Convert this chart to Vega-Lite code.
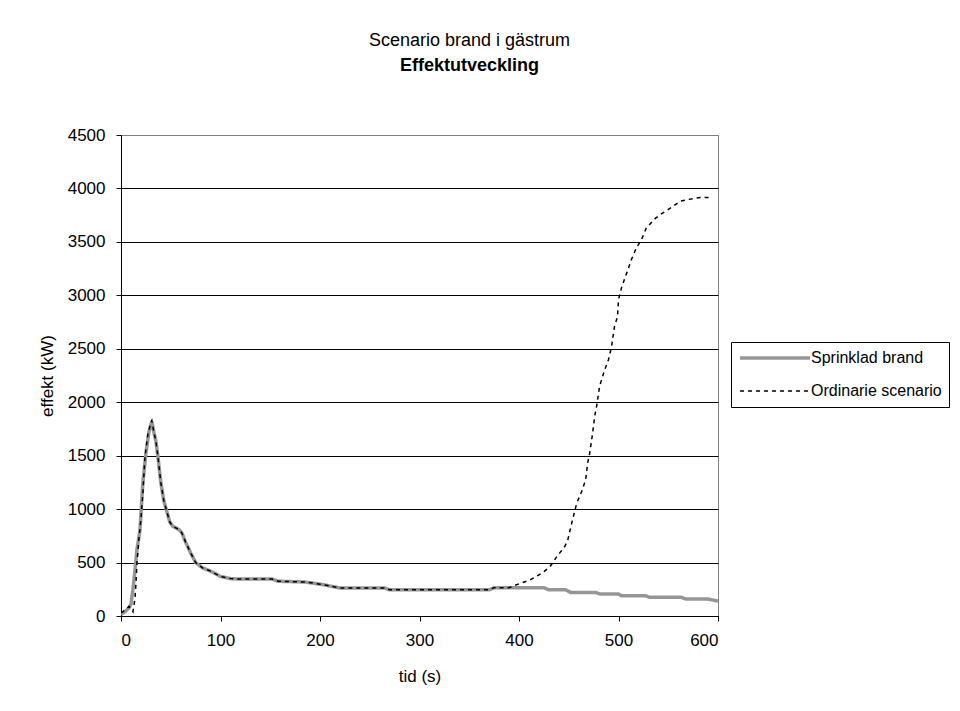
{
  "$schema": "https://vega.github.io/schema/vega-lite/v6.json",
  "autosize": "none",
  "width": 597,
  "height": 481,
  "padding": {"left": 121, "top": 135, "right": 242, "bottom": 95},
  "background": "white",
  "config": {
    "font": "Liberation Sans",
    "view": {"stroke": "#808080", "strokeWidth": 1}
  },
  "title": {
    "text": "Scenario brand i gästrum",
    "subtitle": "Effektutveckling",
    "fontSize": 18,
    "fontWeight": "normal",
    "color": "black",
    "subtitleFontSize": 18,
    "subtitleFontWeight": "bold",
    "subtitleColor": "black",
    "subtitlePadding": 7,
    "anchor": "middle",
    "frame": "group",
    "dx": 50,
    "offset": 51
  },
  "datasets": {
    "serier": [
      {"t": 0, "P": 15, "serie": "Sprinklad brand"},
      {"t": 4, "P": 40, "serie": "Sprinklad brand"},
      {"t": 8, "P": 75, "serie": "Sprinklad brand"},
      {"t": 10, "P": 110, "serie": "Sprinklad brand"},
      {"t": 12, "P": 250, "serie": "Sprinklad brand"},
      {"t": 14, "P": 420, "serie": "Sprinklad brand"},
      {"t": 16, "P": 620, "serie": "Sprinklad brand"},
      {"t": 19, "P": 800, "serie": "Sprinklad brand"},
      {"t": 22, "P": 1250, "serie": "Sprinklad brand"},
      {"t": 25, "P": 1520, "serie": "Sprinklad brand"},
      {"t": 28, "P": 1720, "serie": "Sprinklad brand"},
      {"t": 31, "P": 1820, "serie": "Sprinklad brand"},
      {"t": 33, "P": 1720, "serie": "Sprinklad brand"},
      {"t": 35, "P": 1640, "serie": "Sprinklad brand"},
      {"t": 37, "P": 1500, "serie": "Sprinklad brand"},
      {"t": 40, "P": 1250, "serie": "Sprinklad brand"},
      {"t": 43, "P": 1080, "serie": "Sprinklad brand"},
      {"t": 46, "P": 980, "serie": "Sprinklad brand"},
      {"t": 49, "P": 880, "serie": "Sprinklad brand"},
      {"t": 52, "P": 840, "serie": "Sprinklad brand"},
      {"t": 58, "P": 810, "serie": "Sprinklad brand"},
      {"t": 61, "P": 780, "serie": "Sprinklad brand"},
      {"t": 65, "P": 690, "serie": "Sprinklad brand"},
      {"t": 70, "P": 590, "serie": "Sprinklad brand"},
      {"t": 75, "P": 500, "serie": "Sprinklad brand"},
      {"t": 82, "P": 450, "serie": "Sprinklad brand"},
      {"t": 90, "P": 420, "serie": "Sprinklad brand"},
      {"t": 100, "P": 370, "serie": "Sprinklad brand"},
      {"t": 110, "P": 350, "serie": "Sprinklad brand"},
      {"t": 120, "P": 345, "serie": "Sprinklad brand"},
      {"t": 152, "P": 345, "serie": "Sprinklad brand"},
      {"t": 158, "P": 325, "serie": "Sprinklad brand"},
      {"t": 185, "P": 318, "serie": "Sprinklad brand"},
      {"t": 195, "P": 305, "serie": "Sprinklad brand"},
      {"t": 205, "P": 290, "serie": "Sprinklad brand"},
      {"t": 220, "P": 262, "serie": "Sprinklad brand"},
      {"t": 265, "P": 262, "serie": "Sprinklad brand"},
      {"t": 270, "P": 245, "serie": "Sprinklad brand"},
      {"t": 370, "P": 245, "serie": "Sprinklad brand"},
      {"t": 375, "P": 265, "serie": "Sprinklad brand"},
      {"t": 425, "P": 265, "serie": "Sprinklad brand"},
      {"t": 430, "P": 245, "serie": "Sprinklad brand"},
      {"t": 447, "P": 245, "serie": "Sprinklad brand"},
      {"t": 452, "P": 220, "serie": "Sprinklad brand"},
      {"t": 477, "P": 220, "serie": "Sprinklad brand"},
      {"t": 482, "P": 205, "serie": "Sprinklad brand"},
      {"t": 500, "P": 205, "serie": "Sprinklad brand"},
      {"t": 503, "P": 190, "serie": "Sprinklad brand"},
      {"t": 527, "P": 190, "serie": "Sprinklad brand"},
      {"t": 531, "P": 175, "serie": "Sprinklad brand"},
      {"t": 563, "P": 175, "serie": "Sprinklad brand"},
      {"t": 568, "P": 158, "serie": "Sprinklad brand"},
      {"t": 590, "P": 158, "serie": "Sprinklad brand"},
      {"t": 600, "P": 140, "serie": "Sprinklad brand"},

      {"t": 0, "P": 30, "serie": "Ordinarie scenario"},
      {"t": 5, "P": 60, "serie": "Ordinarie scenario"},
      {"t": 8, "P": 90, "serie": "Ordinarie scenario"},
      {"t": 10, "P": 70, "serie": "Ordinarie scenario"},
      {"t": 12, "P": 40, "serie": "Ordinarie scenario"},
      {"t": 14, "P": 160, "serie": "Ordinarie scenario"},
      {"t": 15, "P": 300, "serie": "Ordinarie scenario"},
      {"t": 16, "P": 490, "serie": "Ordinarie scenario"},
      {"t": 18, "P": 720, "serie": "Ordinarie scenario"},
      {"t": 20, "P": 900, "serie": "Ordinarie scenario"},
      {"t": 22, "P": 1150, "serie": "Ordinarie scenario"},
      {"t": 24, "P": 1480, "serie": "Ordinarie scenario"},
      {"t": 27, "P": 1700, "serie": "Ordinarie scenario"},
      {"t": 30, "P": 1810, "serie": "Ordinarie scenario"},
      {"t": 31, "P": 1830, "serie": "Ordinarie scenario"},
      {"t": 33, "P": 1720, "serie": "Ordinarie scenario"},
      {"t": 35, "P": 1640, "serie": "Ordinarie scenario"},
      {"t": 37, "P": 1500, "serie": "Ordinarie scenario"},
      {"t": 40, "P": 1250, "serie": "Ordinarie scenario"},
      {"t": 43, "P": 1080, "serie": "Ordinarie scenario"},
      {"t": 46, "P": 980, "serie": "Ordinarie scenario"},
      {"t": 49, "P": 880, "serie": "Ordinarie scenario"},
      {"t": 52, "P": 840, "serie": "Ordinarie scenario"},
      {"t": 58, "P": 810, "serie": "Ordinarie scenario"},
      {"t": 61, "P": 780, "serie": "Ordinarie scenario"},
      {"t": 65, "P": 690, "serie": "Ordinarie scenario"},
      {"t": 70, "P": 590, "serie": "Ordinarie scenario"},
      {"t": 75, "P": 500, "serie": "Ordinarie scenario"},
      {"t": 82, "P": 450, "serie": "Ordinarie scenario"},
      {"t": 90, "P": 420, "serie": "Ordinarie scenario"},
      {"t": 100, "P": 370, "serie": "Ordinarie scenario"},
      {"t": 110, "P": 350, "serie": "Ordinarie scenario"},
      {"t": 120, "P": 345, "serie": "Ordinarie scenario"},
      {"t": 152, "P": 345, "serie": "Ordinarie scenario"},
      {"t": 158, "P": 325, "serie": "Ordinarie scenario"},
      {"t": 185, "P": 318, "serie": "Ordinarie scenario"},
      {"t": 195, "P": 305, "serie": "Ordinarie scenario"},
      {"t": 205, "P": 290, "serie": "Ordinarie scenario"},
      {"t": 220, "P": 262, "serie": "Ordinarie scenario"},
      {"t": 265, "P": 262, "serie": "Ordinarie scenario"},
      {"t": 270, "P": 245, "serie": "Ordinarie scenario"},
      {"t": 370, "P": 245, "serie": "Ordinarie scenario"},
      {"t": 375, "P": 265, "serie": "Ordinarie scenario"},
      {"t": 390, "P": 265, "serie": "Ordinarie scenario"},
      {"t": 401, "P": 305, "serie": "Ordinarie scenario"},
      {"t": 411, "P": 337, "serie": "Ordinarie scenario"},
      {"t": 423, "P": 400, "serie": "Ordinarie scenario"},
      {"t": 431, "P": 460, "serie": "Ordinarie scenario"},
      {"t": 438, "P": 555, "serie": "Ordinarie scenario"},
      {"t": 446, "P": 650, "serie": "Ordinarie scenario"},
      {"t": 449, "P": 710, "serie": "Ordinarie scenario"},
      {"t": 453, "P": 870, "serie": "Ordinarie scenario"},
      {"t": 458, "P": 1055, "serie": "Ordinarie scenario"},
      {"t": 463, "P": 1165, "serie": "Ordinarie scenario"},
      {"t": 467, "P": 1275, "serie": "Ordinarie scenario"},
      {"t": 469, "P": 1430, "serie": "Ordinarie scenario"},
      {"t": 471, "P": 1520, "serie": "Ordinarie scenario"},
      {"t": 474, "P": 1710, "serie": "Ordinarie scenario"},
      {"t": 476, "P": 1865, "serie": "Ordinarie scenario"},
      {"t": 478, "P": 1960, "serie": "Ordinarie scenario"},
      {"t": 481, "P": 2150, "serie": "Ordinarie scenario"},
      {"t": 486, "P": 2300, "serie": "Ordinarie scenario"},
      {"t": 490, "P": 2400, "serie": "Ordinarie scenario"},
      {"t": 493, "P": 2520, "serie": "Ordinarie scenario"},
      {"t": 496, "P": 2710, "serie": "Ordinarie scenario"},
      {"t": 499, "P": 2800, "serie": "Ordinarie scenario"},
      {"t": 500, "P": 2960, "serie": "Ordinarie scenario"},
      {"t": 503, "P": 3070, "serie": "Ordinarie scenario"},
      {"t": 506, "P": 3150, "serie": "Ordinarie scenario"},
      {"t": 510, "P": 3255, "serie": "Ordinarie scenario"},
      {"t": 513, "P": 3335, "serie": "Ordinarie scenario"},
      {"t": 518, "P": 3445, "serie": "Ordinarie scenario"},
      {"t": 523, "P": 3520, "serie": "Ordinarie scenario"},
      {"t": 528, "P": 3630, "serie": "Ordinarie scenario"},
      {"t": 537, "P": 3720, "serie": "Ordinarie scenario"},
      {"t": 542, "P": 3755, "serie": "Ordinarie scenario"},
      {"t": 552, "P": 3815, "serie": "Ordinarie scenario"},
      {"t": 562, "P": 3880, "serie": "Ordinarie scenario"},
      {"t": 572, "P": 3900, "serie": "Ordinarie scenario"},
      {"t": 582, "P": 3915, "serie": "Ordinarie scenario"},
      {"t": 594, "P": 3915, "serie": "Ordinarie scenario"}
    ]
  },
  "data": {"name": "serier"},
  "encoding": {
    "x": {
      "field": "t",
      "type": "quantitative",
      "scale": {"domain": [0, 600], "nice": false},
      "axis": {
        "title": "tid (s)",
        "values": [0, 100, 200, 300, 400, 500, 600],
        "format": "d",
        "grid": false,
        "domainColor": "black",
        "tickColor": "black",
        "tickSize": 5,
        "labelFontSize": 17,
        "labelColor": "black",
        "labelPadding": 11,
        "titleFontSize": 17,
        "titleFontWeight": "normal",
        "titleColor": "black",
        "titlePadding": 20
      }
    },
    "y": {
      "field": "P",
      "type": "quantitative",
      "scale": {"domain": [0, 4500], "nice": false},
      "axis": {
        "title": "effekt (kW)",
        "values": [0, 500, 1000, 1500, 2000, 2500, 3000, 3500, 4000, 4500],
        "format": "d",
        "grid": true,
        "gridColor": {"condition": {"test": "datum.value == 4500", "value": "#808080"}, "value": "black"},
        "gridOpacity": 1,
        "gridWidth": 1,
        "domainColor": "black",
        "tickColor": "black",
        "tickSize": 5,
        "labelFontSize": 17,
        "labelColor": "black",
        "labelPadding": 11,
        "titleFontSize": 17,
        "titleFontWeight": "normal",
        "titleColor": "black",
        "titlePadding": 11
      }
    },
    "color": {
      "field": "serie",
      "type": "nominal",
      "scale": {"domain": ["Sprinklad brand", "Ordinarie scenario"], "range": ["#969696", "black"]},
      "legend": {
        "title": null,
        "orient": "none",
        "legendX": 610,
        "legendY": 207,
        "strokeColor": "black",
        "fillColor": "white",
        "padding": 7,
        "labelFontSize": 16,
        "labelColor": "black",
        "symbolType": "stroke",
        "symbolSize": 4900,
        "labelOffset": -1,
        "clipHeight": 18,
        "rowPadding": 15
      }
    },
    "strokeDash": {
      "field": "serie",
      "type": "nominal",
      "scale": {"domain": ["Sprinklad brand", "Ordinarie scenario"], "range": [[1, 0], [4, 4]]},
      "legend": null
    },
    "strokeWidth": {
      "field": "serie",
      "type": "nominal",
      "scale": {"domain": ["Sprinklad brand", "Ordinarie scenario"], "range": [3.5, 1.5]},
      "legend": null
    }
  },
  "layer": [
    {
      "transform": [{"filter": "datum.serie == 'Sprinklad brand'"}],
      "mark": {"type": "line", "clip": true}
    },
    {
      "transform": [{"filter": "datum.serie == 'Ordinarie scenario'"}],
      "mark": {"type": "line", "clip": true}
    }
  ]
}
